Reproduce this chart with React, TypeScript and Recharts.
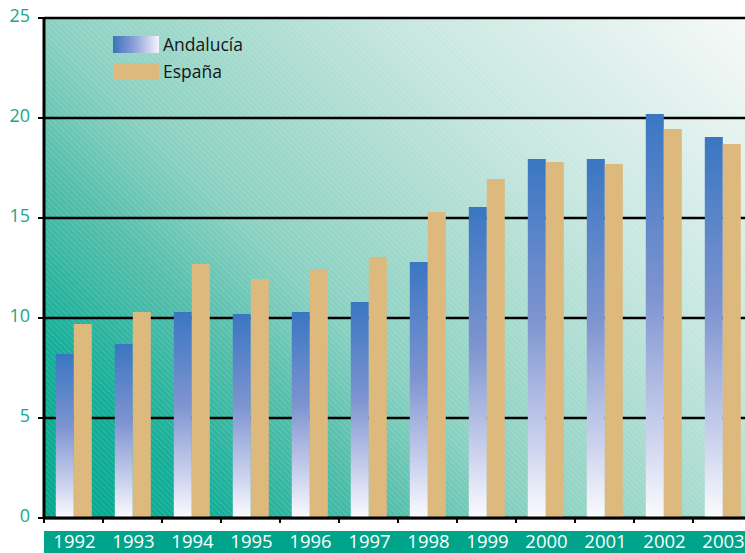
import React from 'react';
import { BarChart, Bar, XAxis, YAxis, CartesianGrid, Legend } from 'recharts';

const years = ['1992', '1993', '1994', '1995', '1996', '1997', '1998', '1999', '2000', '2001', '2002', '2003'];
const andalucia = [8.2, 8.7, 10.3, 10.2, 10.3, 10.8, 12.8, 15.55, 17.95, 17.95, 20.2, 19.05];
const espana = [9.7, 10.3, 12.7, 11.95, 12.45, 13.05, 15.3, 16.95, 17.8, 17.7, 19.45, 18.7];
const yTicks = [0, 5, 10, 15, 20, 25];
const seriesNames = ['Andalucía', 'España'];

const data = years.map((year, i) => ({ year, andalucia: andalucia[i], espana: espana[i] }));

const CHART_W = 760;
const CHART_H = 553;
const MARGIN = { top: 18, right: 8, left: 0, bottom: 0 };
const Y_W = 44;
const X_H = 35;
const BAND = (CHART_W - MARGIN.left - MARGIN.right - Y_W) / years.length;
const FONT = '"Open Sans", "Noto Sans", sans-serif';
const TEAL_TEXT = '#17a78c';
const BAND_TEAL = '#00a48a';
const ESP = '#ddb97e';

const XTick = (props: any) => {
  const { x, y, payload } = props;
  return (
    <g>
      <line x1={x - BAND / 2} x2={x - BAND / 2} y1={y} y2={y + 5} stroke="#000" strokeWidth={2} />
      <rect x={x - BAND / 2} y={y + 13} width={BAND + 0.6} height={22} fill={BAND_TEAL} />
      <text x={x + 1} y={y + 30} textAnchor="middle" fill="#fff" fontSize={18.5} fontFamily={FONT}>
        {payload.value}
      </text>
    </g>
  );
};

const YTick = (props: any) => {
  const { x, y, payload } = props;
  return (
    <text x={x} y={y + 3.5} textAnchor="end" fill={TEAL_TEXT} fontSize={18} fontFamily={FONT}>
      {payload.value}
    </text>
  );
};

const LegendContent = () => (
  <div style={{ fontFamily: FONT, fontSize: 17.5, color: '#151515', lineHeight: '17px' }}>
    <div style={{ display: 'flex', alignItems: 'center', height: 17, marginBottom: 10 }}>
      <div
        style={{
          width: 46,
          height: 17,
          background: 'linear-gradient(to right, #3a72bd, #8c9fd6 45%, #f4f4fa)',
          marginRight: 4,
        }}
      />
      <span>{seriesNames[0]}</span>
    </div>
    <div style={{ display: 'flex', alignItems: 'center', height: 17 }}>
      <div style={{ width: 46, height: 17, background: ESP, marginRight: 4 }} />
      <span>{seriesNames[1]}</span>
    </div>
  </div>
);

export default function App() {
  return (
    <div style={{ position: 'fixed', left: 0, top: 0, width: 745, height: 553, overflow: 'hidden', background: '#fff' }}>
      <BarChart
        width={CHART_W}
        height={CHART_H}
        data={data}
        margin={MARGIN}
        barCategoryGap="20%"
        barGap={0}
      >
        <defs>
          <linearGradient id="bgGrad" gradientUnits="userSpaceOnUse" x1={44} y1={518} x2={648} y2={-86}>
            <stop offset="0" stopColor="#00a68d" />
            <stop offset="0.152" stopColor="#14ae98" />
            <stop offset="0.297" stopColor="#55beab" />
            <stop offset="0.406" stopColor="#88d0c1" />
            <stop offset="0.532" stopColor="#a2d9cc" />
            <stop offset="0.699" stopColor="#c5e6de" />
            <stop offset="0.982" stopColor="#f4f8f7" />
            <stop offset="1" stopColor="#f6f9f8" />
          </linearGradient>
          <linearGradient id="andGrad" x1="0" y1="0" x2="0" y2="1">
            <stop offset="0" stopColor="#3a76c2" />
            <stop offset="0.45" stopColor="#7e94d0" />
            <stop offset="0.8" stopColor="#cdd3ee" />
            <stop offset="1" stopColor="#fbfbfe" />
          </linearGradient>
          <pattern id="hatch" width="4" height="4" patternUnits="userSpaceOnUse" patternTransform="rotate(-45)">
            <rect x="0" y="0" width="1.2" height="4" fill="#ffffff" fillOpacity="0.13" />
          </pattern>
        </defs>
        <CartesianGrid horizontal={false} vertical={false} fill="url(#bgGrad)" />
        <CartesianGrid vertical={false} fill="url(#hatch)" stroke="#000" strokeWidth={2.5} strokeOpacity={1} />
        <XAxis
          dataKey="year"
          height={X_H}
          interval={0}
          axisLine={{ stroke: '#000', strokeWidth: 3 }}
          tickLine={false}
          tickSize={0}
          tickMargin={0}
          tick={<XTick />}
        />
        <YAxis
          width={Y_W}
          domain={[0, 25]}
          ticks={yTicks}
          interval={0}
          axisLine={{ stroke: '#000', strokeWidth: 3 }}
          tickLine={{ stroke: '#000', strokeWidth: 2 }}
          tickSize={6}
          tickMargin={8}
          tick={<YTick />}
        />
        <Legend
          layout="vertical"
          align="center"
          verticalAlign="middle"
          wrapperStyle={{ left: 113, top: 36, width: 200, height: 60 }}
          content={<LegendContent />}
        />
        <Bar dataKey="andalucia" name={seriesNames[0]} fill="url(#andGrad)" isAnimationActive={false} />
        <Bar dataKey="espana" name={seriesNames[1]} fill={ESP} isAnimationActive={false} />
      </BarChart>
    </div>
  );
}
